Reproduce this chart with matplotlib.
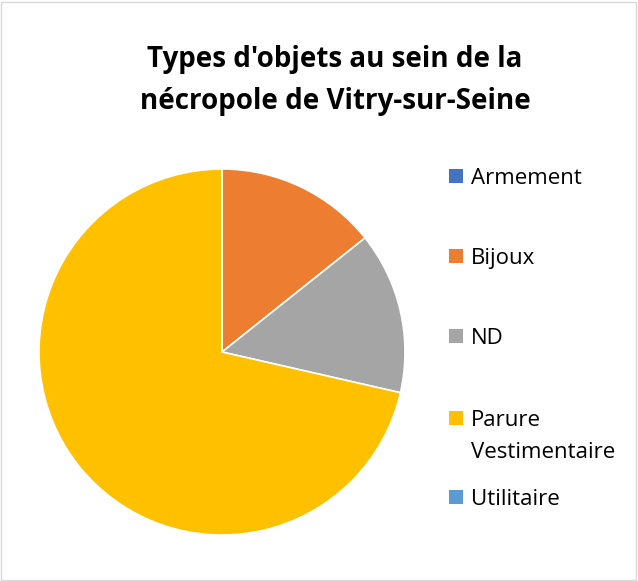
import matplotlib
matplotlib.use("Agg")
import matplotlib.pyplot as plt
from matplotlib.patches import Rectangle

categories = ["Armement", "Bijoux", "ND", "Parure\nVestimentaire", "Utilitaire"]
values = [0, 1, 1, 5, 0]
colors = ["#4472C4", "#ED7D31", "#A5A5A5", "#FFC000", "#5B9BD5"]
title_lines = ["Types d'objets au sein de la", "nécropole de Vitry-sur-Seine"]

plt.rcParams['font.family'] = ['Open Sans', 'DejaVu Sans']

W, H = 638, 581
fig = plt.figure(figsize=(W/100, H/100), dpi=100)
fig.patch.set_facecolor("white")
fig.patches.append(Rectangle((1/W, 1/H), 1-3/W, 1-3/H, transform=fig.transFigure,
                             fill=False, edgecolor="#D9D9D9", linewidth=1))

cx, cy, r = 222, 352, 183
ax = fig.add_axes([(cx-r)/W, 1-(cy+r)/H, 2*r/W, 2*r/H])
ax.pie(values, colors=colors, startangle=90, counterclock=False,
       wedgeprops=dict(edgecolor="white", linewidth=1.2))
ax.set_aspect("auto")
ax.set_xlim(-1, 1); ax.set_ylim(-1, 1)

for line, y in zip(title_lines, [56, 98]):
    fig.text(335/W, 1-y/H, line, ha="center", va="center_baseline", fontsize=20,
             fontweight="bold", color="#000000")

legend_y = [176, 256, 336, 418, 497]
for lab, col, y in zip(categories, colors, legend_y):
    fig.patches.append(Rectangle((449/W, 1-(y+7)/H), 14/W, 14/H,
                                 transform=fig.transFigure, facecolor=col, edgecolor="none"))
    for i, part in enumerate(lab.split("\n")):
        fig.text(471/W, 1-(y + 32*i)/H, part, ha="left", va="center_baseline",
                 fontsize=16, color="#000000")

fig.savefig("out.png", dpi=100, facecolor="white")
